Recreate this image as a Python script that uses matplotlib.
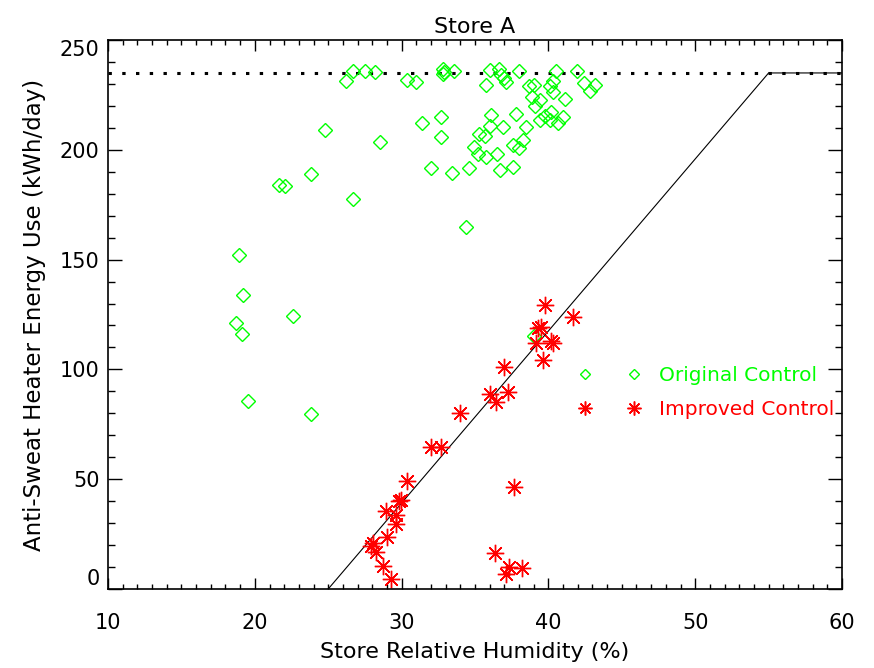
import numpy as np
import matplotlib
matplotlib.use("Agg")
import matplotlib.pyplot as plt
from matplotlib.ticker import MultipleLocator
from matplotlib.lines import Line2D

# Original control (green diamonds)
orig_rh = [26.2, 26.7, 27.5, 28.2, 30.4, 31.0, 32.85, 32.8, 32.9, 33.6,
           36.0, 35.75, 36.6, 36.8, 37.0, 37.1, 38.0, 38.7, 39.0, 40.3,
           40.1, 40.3, 40.5, 41.95, 42.4, 43.2, 42.8, 38.9, 39.4, 39.1,
           41.1, 39.4, 39.8, 40.2, 40.65, 41.0, 40.1, 36.1, 37.8, 36.0,
           36.9, 38.5, 35.3, 35.65, 34.95, 35.2, 35.75, 36.5, 37.6, 38.0,
           38.25, 36.7, 37.6, 34.6, 33.45, 32.0, 32.7, 31.4, 32.7, 28.5,
           24.8, 23.8, 21.65, 22.05, 26.7, 34.4, 18.95, 19.2, 22.6, 18.7,
           19.1, 19.55, 23.8, 39.0]
orig_kwh = [231.5, 236, 236, 235.5, 232, 231, 237, 234.5, 235.5, 236,
            236.5, 229.5, 237, 234, 232.5, 231, 236, 229, 229.5, 231.5,
            229, 226.5, 236, 236, 230.5, 229.5, 227, 224, 222.5, 220,
            223, 213.5, 215.5, 217, 212, 215, 213.5, 216, 216.5, 211,
            210.5, 210.5, 207, 206.5, 201.5, 198, 196.5, 198, 202, 201,
            204.5, 191, 192, 191.5, 189.5, 191.5, 215, 212, 206, 203.5,
            209, 189, 184, 183.5, 177.5, 165, 152, 134, 124.5, 121,
            116, 85.5, 79.5, 115]

# Improved control (red asterisks)
impr_rh = [39.75, 41.65, 39.3, 39.5, 39.15, 40.2, 40.3, 39.6, 36.95, 36.05,
           37.25, 36.45, 33.95, 32.0, 32.7, 30.4, 37.65, 29.85, 29.95, 28.95,
           29.6, 29.6, 29.0, 28.05, 27.9, 28.25, 28.7, 29.25, 36.35, 37.3,
           38.2, 37.1]
impr_kwh = [129.5, 124, 119, 119.5, 112, 113, 112, 104.5, 101, 89,
            89.5, 85, 80, 64.5, 64.5, 49, 46.5, 40, 40.5, 35.5,
            33.5, 29.5, 23.5, 21, 19.5, 17, 10.5, 4.5, 16.5, 10,
            9.5, 7]

# control curve and max level
curve_rh = [25, 55, 60]
curve_kwh = [0, 235, 235]
max_kwh = 235

green = "#00ff00"
red = "#ff0000"

fig = plt.figure(figsize=(8.74, 6.68), dpi=100)
ax = fig.add_axes([0.1236, 0.1183, 0.8398, 0.8218])

ax.plot([10, 60], [max_kwh, max_kwh], color="black", lw=2.2,
        linestyle=(0, (1.1, 3.4)))
ax.plot(curve_rh, curve_kwh, color="black", lw=0.8)

ax.plot(orig_rh, orig_kwh, linestyle="none", marker="D", ms=7,
        mfc="none", mec=green, mew=1.0)
ax.plot(impr_rh, impr_kwh, linestyle="none", marker=(8, 2, 0), ms=12.5,
        mec=red, mew=1.0, color=red)

ax.set_xlim(10, 60)
ax.set_ylim(0, 250)
ax.set_xticks([10, 20, 30, 40, 50, 60])
ax.set_yticks([0, 50, 100, 150, 200, 250])
ax.xaxis.set_minor_locator(MultipleLocator(1))
ax.yaxis.set_minor_locator(MultipleLocator(10))
ax.tick_params(axis="both", which="both", direction="in", top=True,
               right=True, width=1.0, labelsize=15)
ax.tick_params(axis="x", which="major", length=7.6, pad=17)
ax.tick_params(axis="x", which="minor", length=3.6)
ax.tick_params(axis="y", which="major", length=10, pad=6)
ax.tick_params(axis="y", which="minor", length=5)
for s in ax.spines.values():
    s.set_linewidth(1.2)

ylabs = ax.get_yticklabels()
ylabs[0].set_va("bottom")
ylabs[-1].set_va("top")

ax.set_title("Store A", fontsize=16, pad=5)
ax.set_xlabel("Store Relative Humidity (%)", fontsize=16, labelpad=7)
ax.set_ylabel("Anti-Sweat Heater Energy Use (kWh/day)", fontsize=16.5,
              labelpad=10)

handles = [
    Line2D([], [], linestyle="none", marker="D", ms=5, mfc="none",
           mec=green, mew=1.0, color=green),
    Line2D([], [], linestyle="none", marker=(8, 2, 0), ms=10, mec=red,
           mew=1.1, color=red),
]
ax.legend(handles, ["Original Control", "Improved Control"], numpoints=2,
          frameon=False, fontsize=14.5, labelcolor="linecolor",
          handlelength=3.0, handletextpad=0.95, labelspacing=0.72,
          borderpad=0, borderaxespad=0, loc="upper left",
          bbox_to_anchor=(0.6627, 0.452), bbox_transform=fig.transFigure)

fig.savefig("out.png", dpi=100)
